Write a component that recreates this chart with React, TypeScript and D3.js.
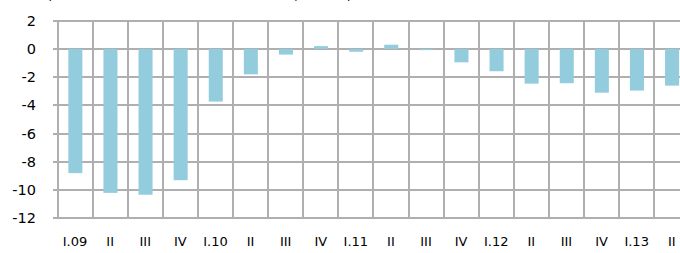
import React from "react";
import * as d3 from "d3";

const categories = ["I.09", "II", "III", "IV", "I.10", "II", "III", "IV", "I.11", "II", "III", "IV", "I.12", "II", "III", "IV", "I.13", "II"];
const values = [-8.8, -10.2, -10.33, -9.3, -3.73, -1.8, -0.4, 0.2, -0.2, 0.3, -0.05, -0.95, -1.58, -2.46, -2.43, -3.1, -2.95, -2.6];
const yTicks = [2, 0, -2, -4, -6, -8, -10, -12];
const title = "(current account balance as % of GDP, annual)";

const W = 680;
const H = 253;
const plotLeft = 57.5;
const step = 35.1;
const plotTop = 20.7;
const plotBottom = 218.3;
const gridColor = "#afafaf";
const barColor = "#93cddd";
const font = "Verdana, 'DejaVu Sans', sans-serif";

export default function App() {
  const x = d3
    .scaleBand<number>()
    .domain(categories.map((_, i) => i))
    .range([plotLeft, plotLeft + step * categories.length])
    .padding(0);
  const y = d3.scaleLinear().domain([-12, 2]).range([plotBottom, plotTop]);
  const bw = x.bandwidth() * 0.4;
  const yr = (v: number) => Math.round(y(v));

  return (
    <div style={{ position: "absolute", left: 0, top: 0, width: W, height: H, background: "#fff" }}>
      <svg width={W} height={H} viewBox={`0 0 ${W} ${H}`} style={{ display: "block" }}>
        <g className="grid">
          {yTicks.map((t) => (
            <line key={"h" + t} x1={53} x2={W + 10} y1={yr(t)} y2={yr(t)} stroke={gridColor} strokeWidth={2} />
          ))}
          {categories.map((_, i) => (
            <line
              key={"v" + i}
              x1={Math.round(x(i)!)}
              x2={Math.round(x(i)!)}
              y1={yr(2) - 1}
              y2={yr(-12) + 1}
              stroke={gridColor}
              strokeWidth={2}
            />
          ))}
        </g>
        <g>
          {values.map((v, i) => {
            const cx = x(i)! + x.bandwidth() / 2 + 0.3;
            const y0 = y(0);
            const y1 = y(v);
            return (
              <rect
                key={"b" + i}
                x={cx - bw / 2}
                width={bw}
                y={Math.min(y0, y1)}
                height={Math.max(Math.abs(y1 - y0), 1.2)}
                fill={barColor}
              />
            );
          })}
        </g>
        <text x={47} y={0} fontFamily={font} fontSize={13} fill="#000">{title}</text>
        {yTicks.map((t) => (
          <text key={"yl" + t} x={36} y={yr(t)} dy="0.36em" textAnchor="end" fontFamily={font} fontSize={14.5} fill="#000">
            {t}
          </text>
        ))}
        {categories.map((c, i) => (
          <text
            key={"xl" + i}
            x={x(i)! + x.bandwidth() / 2}
            y={246}
            textAnchor="middle"
            fontFamily={font}
            fontSize={13}
            fill="#000"
          >
            {c}
          </text>
        ))}
      </svg>
    </div>
  );
}
